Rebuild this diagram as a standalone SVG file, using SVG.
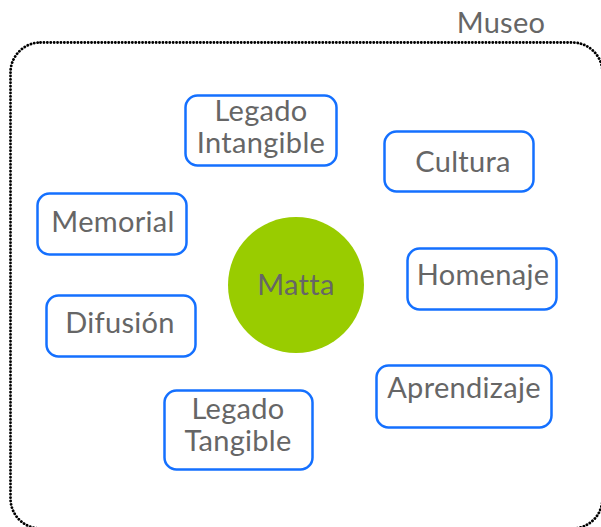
<svg xmlns="http://www.w3.org/2000/svg" width="601" height="527" viewBox="0 0 601 527">
<style>
.box{fill:#fff;stroke:#1470ff;stroke-width:2.5}
.t{font-family:Lato,"Open Sans",sans-serif;font-size:29px;fill:#666;text-anchor:middle;letter-spacing:0.3px}
</style>
<rect width="601" height="527" fill="#fff"/>
<g id="museo">
<rect x="10.5" y="42.5" width="592" height="486" rx="30" fill="none" stroke="#000" stroke-width="2.8" stroke-dasharray="0.1 3.3" stroke-linecap="round"/>
<text class="t" x="501" y="33">Museo</text>
</g>
<g id="connectors"></g>
<g id="matta">
<circle cx="296" cy="285" r="68" fill="#99cc00"/>
<text class="t" x="296" y="295">Matta</text>
</g>
<g id="legado-intangible">
<rect class="box" x="185.5" y="95.5" width="151" height="70" rx="12"/>
<text class="t" x="261" y="121">Legado</text>
<text class="t" x="261" y="153">Intangible</text>
</g>
<g id="cultura">
<rect class="box" x="384.5" y="131.5" width="149" height="60" rx="12"/>
<text class="t" x="463" y="172">Cultura</text>
</g>
<g id="memorial">
<rect class="box" x="37.5" y="193.5" width="149" height="61" rx="12"/>
<text class="t" x="113" y="232">Memorial</text>
</g>
<g id="homenaje">
<rect class="box" x="407.5" y="248.5" width="149" height="61" rx="12"/>
<text class="t" x="483" y="285">Homenaje</text>
</g>
<g id="difusion">
<rect class="box" x="46.5" y="295.5" width="149" height="61" rx="12"/>
<text class="t" x="120" y="333">Difusión</text>
</g>
<g id="aprendizaje">
<rect class="box" x="376.5" y="365.5" width="175" height="62" rx="12"/>
<text class="t" x="464" y="398">Aprendizaje</text>
</g>
<g id="legado-tangible">
<rect class="box" x="164.5" y="390.5" width="148" height="79" rx="12"/>
<text class="t" x="238" y="419">Legado</text>
<text class="t" x="238" y="451">Tangible</text>
</g>
</svg>
